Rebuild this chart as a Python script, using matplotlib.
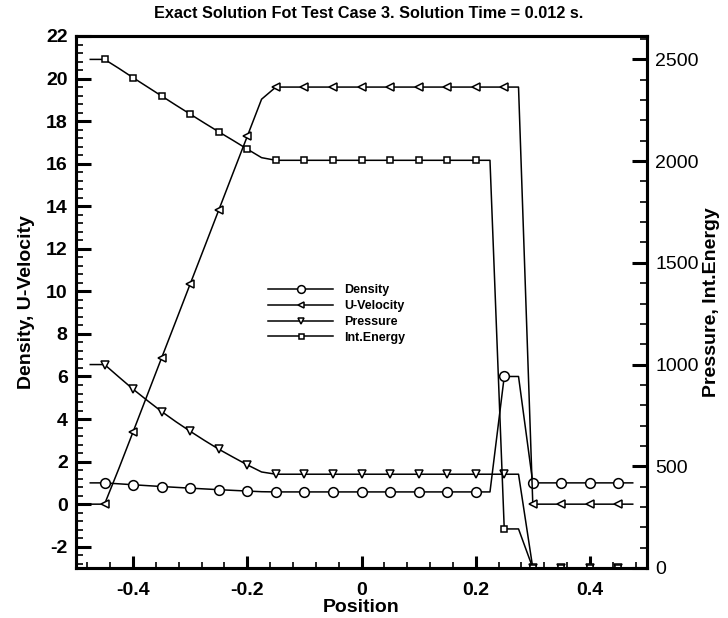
import numpy as np
import matplotlib
matplotlib.use("Agg")
import matplotlib.pyplot as plt
from matplotlib.ticker import MultipleLocator, FuncFormatter

plt.rcParams['font.family'] = ['Liberation Sans', 'DejaVu Sans']
plt.rcParams['axes.unicode_minus'] = False

# Solution du cas test 3 a t = 0.012 s (centres de mailles, dx = 0.025)
position = [-0.475, -0.45, -0.425, -0.4, -0.375, -0.35, -0.325, -0.3, -0.275, -0.25,
            -0.225, -0.2, -0.175, -0.15, -0.125, -0.1, -0.075, -0.05, -0.025, 0.0,
            0.025, 0.05, 0.075, 0.1, 0.125, 0.15, 0.175, 0.2, 0.225, 0.25,
            0.275, 0.3, 0.325, 0.35, 0.375, 0.4, 0.425, 0.45, 0.475]

densite = [1.0, 1.0, 0.956, 0.912, 0.870, 0.829, 0.790, 0.752, 0.716, 0.681,
           0.648, 0.616, 0.585, 0.575, 0.575, 0.575, 0.575, 0.575, 0.575, 0.575,
           0.575, 0.575, 0.575, 0.575, 0.575, 0.575, 0.575, 0.575, 0.575, 6.0,
           6.0, 1.0, 1.0, 1.0, 1.0, 1.0, 1.0, 1.0, 1.0]

vitesse = [0.0, 0.0, 1.67, 3.40, 5.14, 6.88, 8.61, 10.35, 12.08, 13.82,
           15.56, 17.29, 19.03, 19.60, 19.60, 19.60, 19.60, 19.60, 19.60, 19.60,
           19.60, 19.60, 19.60, 19.60, 19.60, 19.60, 19.60, 19.60, 19.60, 19.60,
           19.60, 0.0, 0.0, 0.0, 0.0, 0.0, 0.0, 0.0, 0.0]

pression = [1000, 1000, 939, 879, 823, 769, 719, 672, 627, 584,
            545, 507, 472, 461, 461, 461, 461, 461, 461, 461,
            461, 461, 461, 461, 461, 461, 461, 461, 461, 461,
            461, 0.01, 0.01, 0.01, 0.01, 0.01, 0.01, 0.01, 0.01]

energie = [2500, 2500, 2456, 2410, 2365, 2320, 2275, 2231, 2187, 2144,
           2102, 2059, 2017, 2004, 2004, 2004, 2004, 2004, 2004, 2004,
           2004, 2004, 2004, 2004, 2004, 2004, 2004, 2004, 2004, 192,
           192, 0.025, 0.025, 0.025, 0.025, 0.025, 0.025, 0.025, 0.025]

fig = plt.figure(figsize=(7.28, 6.18), dpi=100)
ax = fig.add_axes([76/728, 50/618, 571/728, 532/618])
ax2 = ax.twinx()

style = dict(color='black', lw=1.1, markerfacecolor='white', markeredgecolor='black',
             markeredgewidth=1.1, markevery=(1, 2))
l1, = ax.plot(position, densite, marker='o', ms=7, label='Density', **style)
l2, = ax.plot(position, vitesse, marker='<', ms=5.5, label='U-Velocity', **style)
l3, = ax2.plot(position, pression, marker='v', ms=5.5, label='Pressure', **style)
l4, = ax2.plot(position, energie, marker='s', ms=4.5, label='Int.Energy', **style)

ax.set_xlim(-0.5, 0.5)
ax.set_ylim(-3, 22)
ax2.set_ylim(0, 2615)

ax.xaxis.set_major_locator(MultipleLocator(0.2))
ax.xaxis.set_minor_locator(MultipleLocator(0.04))
ax.xaxis.set_major_formatter(FuncFormatter(lambda v, p: '0' if abs(v) < 1e-9 else '%g' % v))
ax.yaxis.set_major_locator(MultipleLocator(2))
ax.yaxis.set_minor_locator(MultipleLocator(0.4))
ax2.yaxis.set_major_locator(MultipleLocator(500))
ax2.yaxis.set_minor_locator(MultipleLocator(100))

ax.tick_params(axis='y', which='major', direction='in', length=11, width=2.2, pad=6,
               labelsize=14, left=True, right=False)
ax.tick_params(axis='y', which='minor', direction='in', length=5, width=1.2,
               left=True, right=False)
ax.tick_params(axis='x', which='major', direction='in', length=9, width=2.2, pad=10,
               labelsize=14, top=False)
ax.tick_params(axis='x', which='minor', direction='in', length=4, width=1.2, top=False)
ax2.tick_params(axis='y', which='major', direction='in', length=11, width=2.2, pad=6,
                labelsize=14)
ax2.tick_params(axis='y', which='minor', direction='in', length=5, width=1.2)

for lab in ax.get_yticklabels() + ax.get_xticklabels():
    lab.set_fontweight('bold')

for a in (ax, ax2):
    for s in a.spines.values():
        s.set_linewidth(2.2)

ax.set_xlabel('Position', fontsize=14, fontweight='bold', labelpad=0)
ax.set_ylabel('Density, U-Velocity', fontsize=14, fontweight='bold', labelpad=8)
ax2.set_ylabel('Pressure, Int.Energy', fontsize=14, fontweight='bold', labelpad=3)
fig.text(369/728, 1 - 14/618, 'Exact Solution Fot Test Case 3. Solution Time = 0.012 s.',
         fontsize=11.7, fontweight='bold', ha='center', va='center')

leg = ax2.legend(handles=[l1, l2, l3, l4], loc='center left',
                 bbox_to_anchor=(268/728, 1 - 314/618), bbox_transform=fig.transFigure,
                 frameon=False, borderpad=0, borderaxespad=0, handlelength=5.2,
                 handletextpad=0.9, labelspacing=0.3, markerscale=0.8,
                 prop={'size': 9, 'weight': 'bold'})

fig.savefig('out.png', dpi=100)
